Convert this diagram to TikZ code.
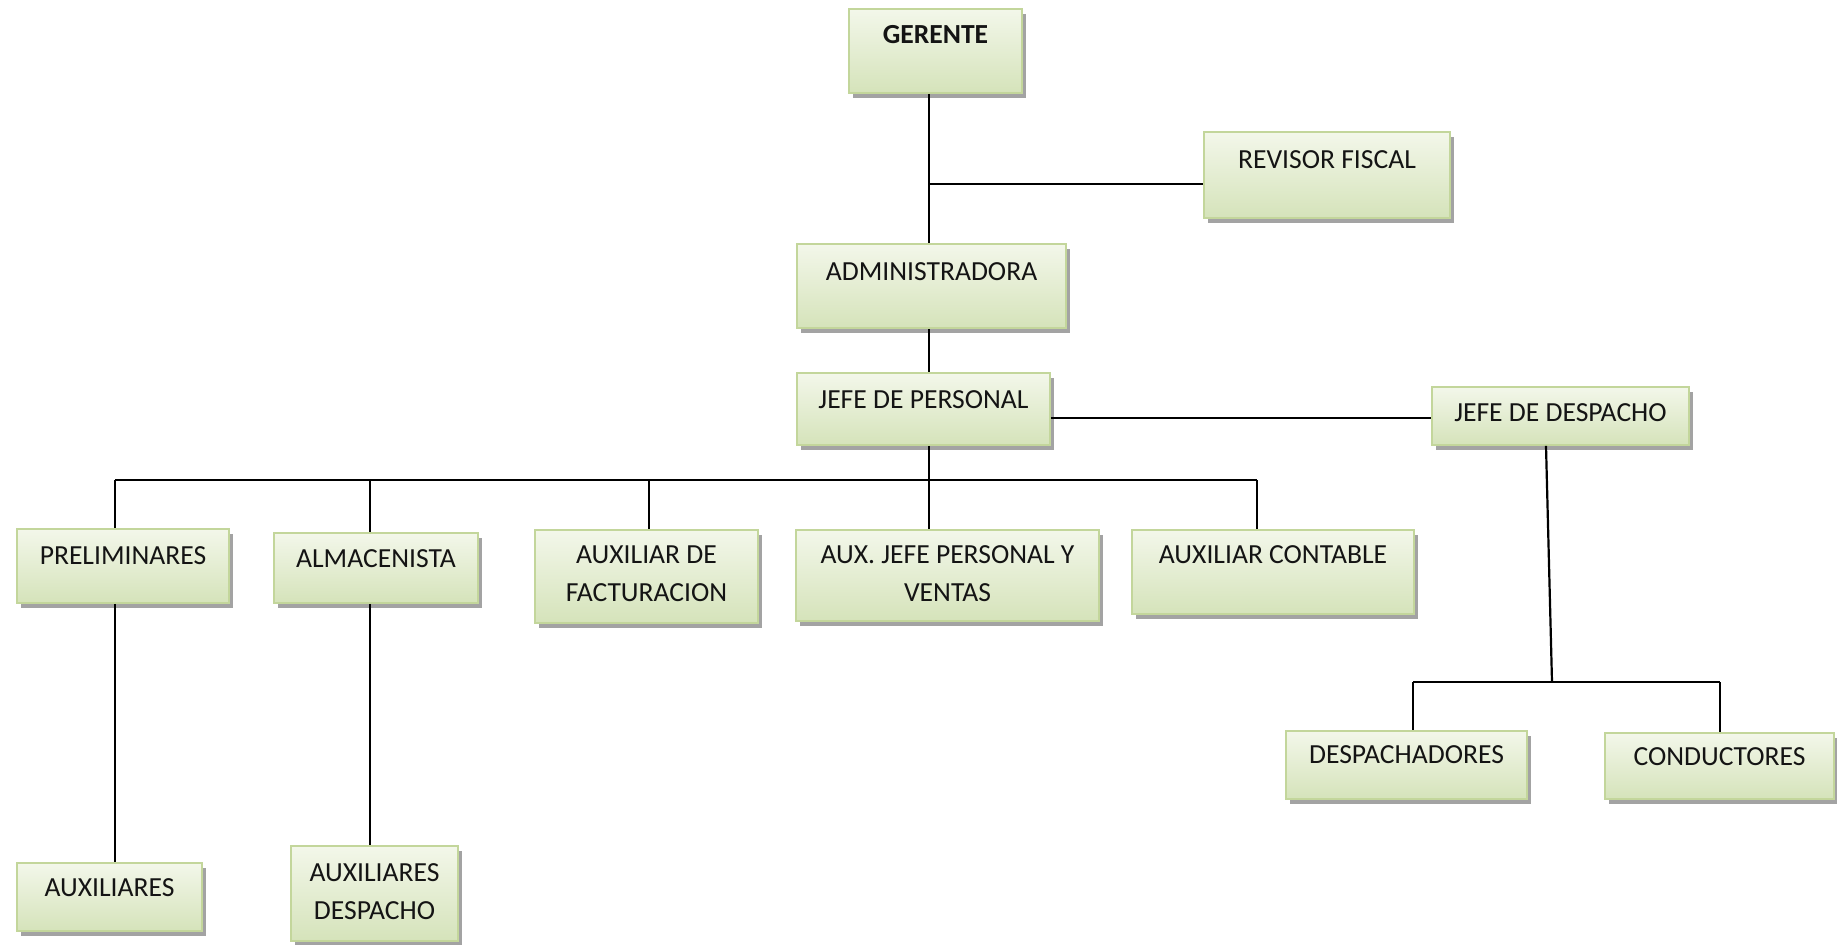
\documentclass[tikz,border=0pt]{standalone}
\usepackage{fontspec}
\setmainfont{Carlito}
\usetikzlibrary{fit,shadows,calc}
\definecolor{boxtop}{HTML}{F3F7EA}
\definecolor{boxbot}{HTML}{D5E3BA}
\definecolor{boxline}{HTML}{C3D69B}
\tikzset{
  orgbox/.style={draw=boxline, line width=0.8pt, top color=boxtop, bottom color=boxbot,
    inner sep=0pt, drop shadow={shadow xshift=2.2pt, shadow yshift=-2.6pt, fill=black!45, opacity=0.8}},
  lbl/.style={inner sep=0pt, align=center, font=\fontsize{13.8}{19}\selectfont, text=black!92},
  conn/.style={draw=black, line width=1.1pt}
}
\newcommand\obox[7]{%
  \node[orgbox, fit={(#2,#3) (#4,#5)}] (#1) {};
  \node[lbl] (#1T) at ({(#2+#4)/2},#6) {#7};
}
\begin{document}
\begin{tikzpicture}[x=0.5pt,y=-0.5pt]
\useasboundingbox (0,0) rectangle (1837,944);
% boxes
\obox{ger}{849}{9}{1022}{93}{35}{\bfseries GERENTE}
\obox{rev}{1204}{132}{1450}{218}{160}{REVISOR FISCAL}
\obox{adm}{797}{244}{1066}{328}{272}{ADMINISTRADORA}
\obox{jp}{797}{373}{1050}{445}{400}{JEFE DE PERSONAL}
\obox{jd}{1432}{387}{1689}{445}{413}{JEFE DE DESPACHO}
\obox{pre}{17}{529}{229}{603}{556}{PRELIMINARES}
\obox{alm}{274}{533}{478}{603}{559}{ALMACENISTA}
\obox{fac}{535}{530}{758}{623}{574}{AUXILIAR DE\\FACTURACION}
\obox{ajp}{796}{530}{1099}{621}{574}{AUX. JEFE PERSONAL Y\\VENTAS}
\obox{con}{1132}{530}{1414}{614}{555}{AUXILIAR CONTABLE}
\obox{des}{1286}{731}{1527}{799}{755}{DESPACHADORES}
\obox{cnd}{1605}{733}{1834}{799}{757}{CONDUCTORES}
\obox{aux}{17}{863}{202}{931}{888}{AUXILIARES}
\obox{adp}{291}{846}{458}{941}{892}{AUXILIARES\\DESPACHO}
% helper coordinates
\coordinate (spine) at (929,0);
\coordinate (revY) at (0,184);
\coordinate (jdY) at (0,418);
\coordinate (dPre) at (115,480);
\coordinate (dAlm) at (370,480);
\coordinate (dFac) at (649,480);
\coordinate (dAjp) at (929,480);
\coordinate (dCon) at (1257,480);
\coordinate (xJd) at (1546,0);
\coordinate (jdBus) at (1552,682);
\coordinate (dDes) at (1413,682);
\coordinate (dCnd) at (1720,682);
% connectors
\draw[conn] (ger.south -| spine) -- (adm.north -| spine);
\draw[conn] (spine |- revY) -- (rev.west |- revY);
\draw[conn] (adm.south -| spine) -- (jp.north -| spine);
\draw[conn] (jp.south -| spine) -- (dAjp);
\draw[conn] (jp.east |- jdY) -- (jd.west |- jdY);
\draw[conn] (dPre) -- (dCon);
\draw[conn] (dPre) -- (dPre |- pre.north);
\draw[conn] (dAlm) -- (dAlm |- alm.north);
\draw[conn] (dFac) -- (dFac |- fac.north);
\draw[conn] (dAjp) -- (dAjp |- ajp.north);
\draw[conn] (dCon) -- (dCon |- con.north);
\draw[conn] (pre.south -| dPre) -- (aux.north -| dPre);
\draw[conn] (alm.south -| dAlm) -- (adp.north -| dAlm);
\draw[conn] (jd.south -| xJd) -- (jdBus);
\draw[conn] (dDes) -- (dCnd);
\draw[conn] (dDes) -- (dDes |- des.north);
\draw[conn] (dCnd) -- (dCnd |- cnd.north);
\end{tikzpicture}
\end{document}
